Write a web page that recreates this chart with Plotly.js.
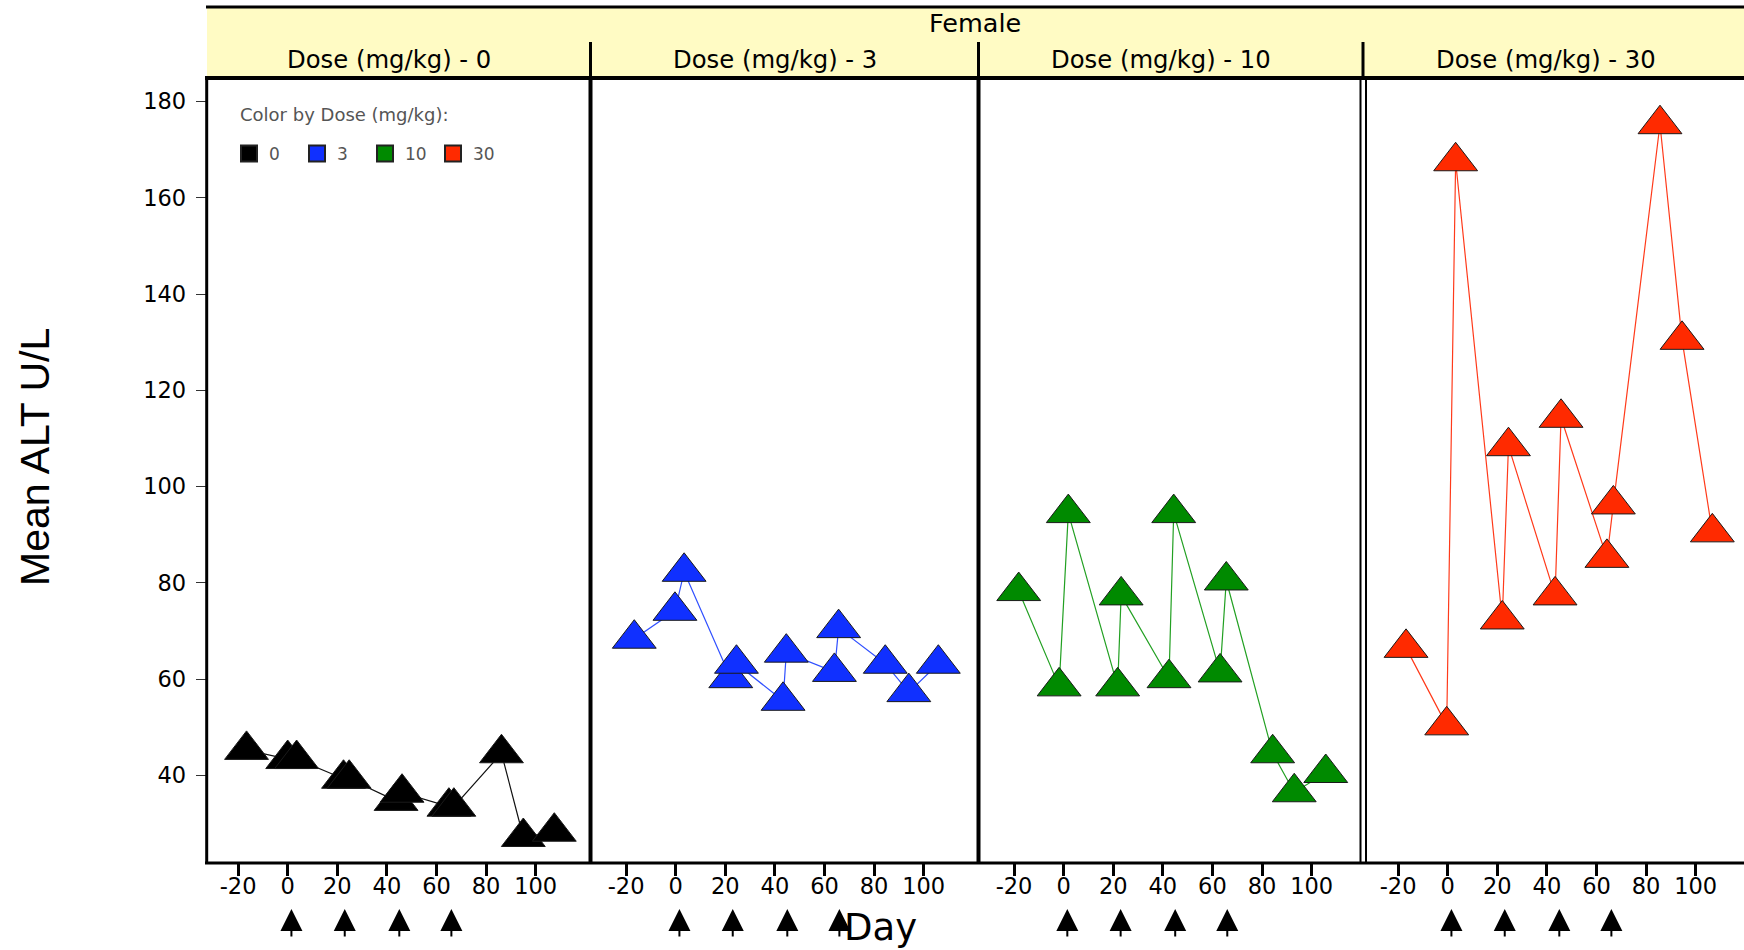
<!DOCTYPE html>
<html>
<head>
<meta charset="utf-8">
<script src="https://cdn.plot.ly/plotly-3.0.1.min.js"></script>
<style>
  html, body { margin: 0; padding: 0; background: #ffffff; }
  #chart { width: 1744px; height: 950px; }
</style>
</head>
<body>
<div id="chart"></div>
<script>
// ---- data ----
const doses = ['0', '3', '10', '30'];
const sexLabel = 'Female';

const days_0  = [-16.6, 0.0, 3.6, 22.5, 24.8, 43.7, 46.1, 65.0, 67.0, 86.2, 95.0, 107.5];
const alt_0   = [45.3, 43.4, 43.4, 39.3, 39.3, 34.7, 36.4, 33.5, 33.5, 44.6, 27.2, 28.3];

const days_3  = [-16.7, -0.3, 3.4, 22.2, 24.5, 43.3, 44.6, 64.0, 65.7, 84.5, 94.0, 105.9];
const alt_3   = [68.4, 74.2, 82.3, 60.2, 63.2, 55.5, 65.5, 61.5, 70.6, 63.2, 57.3, 63.2];

const days_10 = [-18.1, -1.8, 1.9, 21.8, 23.2, 42.5, 44.4, 63.1, 65.6, 84.3, 93.0, 105.7];
const alt_10  = [78.3, 58.5, 94.5, 58.5, 77.4, 60.2, 94.5, 61.4, 80.5, 44.6, 36.5, 40.5];

const days_30 = [-16.8, -0.4, 3.2, 22.0, 24.5, 43.3, 45.7, 64.2, 66.8, 85.6, 94.5, 106.7];
const alt_30  = [66.5, 50.4, 167.6, 72.4, 108.4, 77.4, 114.3, 85.2, 96.3, 175.3, 130.5, 90.5];

const dosingDays = [1.5, 23, 45, 66];
const xTickVals = [-20, 0, 20, 40, 60, 80, 100];
const xTickText = ['-20', '0', '20', '40', '60', '80', '100'];
const yTickVals = [40, 60, 80, 100, 120, 140, 160, 180];

const allDays = [days_0, days_3, days_10, days_30];
const allAlt  = [alt_0, alt_3, alt_10, alt_30];

// ---- styling ----
const W = 1744, H = 950;
const px = v => v / W;
const py = v => 1 - v / H;

const markerColors = ['#000000', '#1030ff', '#008a00', '#ff2a00'];
const lineColors   = ['#111111', '#3050ff', '#22a022', '#ff3a1a'];

const FONT = 'DejaVu Sans, Liberation Sans, Arial, sans-serif';

// panel geometry (pixels) and axis ranges
const panelLeft  = [206.7, 591.0, 979.0, 1365.5];
const panelRight = [590.0, 978.0, 1360.5, 1744.0];
const zeroPx     = [287.7, 675.7, 1063.6, 1447.7];
const pxPerDay   = 2.48;
const plotTop = 78, plotBottom = 863;

const traces = [];
const layout = {
  width: W, height: H,
  margin: {l: 0, r: 0, t: 0, b: 0},
  paper_bgcolor: '#ffffff',
  plot_bgcolor: '#ffffff',
  font: {family: FONT, color: '#000'},
  showlegend: true,
  legend: {
    x: px(229), y: py(154), xanchor: 'left', yanchor: 'middle',
    orientation: 'h',
    bgcolor: 'rgba(0,0,0,0)',
    borderwidth: 0,
    entrywidth: 23, entrywidthmode: 'pixels',
    font: {family: FONT, size: 17, color: '#555555'},
    itemclick: false, itemdoubleclick: false
  },
  yaxis: {
    domain: [py(plotBottom), py(plotTop)],
    range: [21.8, 184.9],
    tickvals: yTickVals,
    ticks: 'outside', ticklen: 10, tickwidth: 1, tickcolor: '#333',
    ticklabelstandoff: 5,
    tickfont: {family: FONT, size: 22.5, color: '#000'},
    showgrid: false, zeroline: false, showline: false,
    anchor: 'x', fixedrange: true
  },
  shapes: [],
  annotations: []
};

for (let k = 0; k < 4; k++) {
  const axName = k === 0 ? 'xaxis' : 'xaxis' + (k + 1);
  const axRef = k === 0 ? 'x' : 'x' + (k + 1);
  const left = -(zeroPx[k] - panelLeft[k]) / pxPerDay;
  const right = left + (panelRight[k] - panelLeft[k]) / pxPerDay;
  layout[axName] = {
    domain: [px(panelLeft[k]), px(panelRight[k])],
    range: [left, right],
    tickvals: xTickVals, ticktext: xTickText,
    ticks: 'outside', ticklen: 12, tickwidth: 3, tickcolor: '#000',
    ticklabelstandoff: -9,
    tickfont: {family: FONT, size: 22.5, color: '#000'},
    showgrid: false, zeroline: false, showline: false,
    anchor: 'y', fixedrange: true
  };
  traces.push({
    type: 'scatter', mode: 'lines+markers',
    x: allDays[k], y: allAlt[k],
    xaxis: axRef, yaxis: 'y',
    line: {color: lineColors[k], width: 1.2},
    marker: {symbol: 'triangle-up', size: 38, color: markerColors[k],
             line: {color: '#1a1a1a', width: 1}},
    showlegend: false, hoverinfo: 'x+y', cliponaxis: false
  });
  // strip label
  layout.annotations.push({
    text: 'Dose (mg/kg) - ' + doses[k],
    xref: 'paper', yref: 'paper',
    x: px((panelLeft[k] + Math.min(panelRight[k], panelLeft[k] + 386)) / 2 - 9), y: py(60),
    xanchor: 'center', yanchor: 'middle', showarrow: false,
    font: {family: FONT, size: 24.3, color: '#000'}
  });
  // dosing arrows
  dosingDays.forEach(d => {
    layout.annotations.push({
      text: '', xref: axRef, yref: 'paper', x: d, y: py(909),
      axref: 'pixel', ayref: 'pixel', ax: 0, ay: 29,
      showarrow: true, arrowhead: 2, arrowsize: 2.2, arrowwidth: 2, arrowcolor: '#000'
    });
  });
}

// legend entries
doses.forEach((d, k) => {
  traces.push({
    type: 'scatter', mode: 'markers', x: [null], y: [null],
    name: d, showlegend: true, hoverinfo: 'skip',
    marker: {symbol: 'square', size: 16, color: markerColors[k],
             line: {color: '#222', width: 2}}
  });
});

// strip background and frame
const S = layout.shapes;
S.push({type: 'rect', xref: 'paper', yref: 'paper', x0: px(207), x1: 1, y0: py(78), y1: py(7),
        fillcolor: '#fffbc4', line: {width: 0}, layer: 'below'});
S.push({type: 'line', xref: 'paper', yref: 'paper', x0: px(206), x1: 1, y0: py(7), y1: py(7),
        line: {color: '#000', width: 3}});
S.push({type: 'line', xref: 'paper', yref: 'paper', x0: px(205), x1: 1, y0: py(78), y1: py(78),
        line: {color: '#000', width: 4}});
[590.5, 978.5, 1363].forEach(x => {
  S.push({type: 'line', xref: 'paper', yref: 'paper', x0: px(x), x1: px(x), y0: py(42), y1: py(78),
          line: {color: '#000', width: 3}});
});
[[206.7, 3], [590.5, 4], [978.5, 4], [1360.5, 2], [1366, 2]].forEach(([x, w]) => {
  S.push({type: 'line', xref: 'paper', yref: 'paper', x0: px(x), x1: px(x), y0: py(78), y1: py(863),
          line: {color: '#000', width: w}});
});
S.push({type: 'line', xref: 'paper', yref: 'paper', x0: px(205), x1: 1, y0: py(863), y1: py(863),
        line: {color: '#000', width: 3}});

// titles
layout.annotations.push({
  text: 'Color by Dose (mg/kg):', xref: 'paper', yref: 'paper', x: px(238), y: py(114),
  xanchor: 'left', yanchor: 'middle', showarrow: false,
  font: {family: FONT, size: 18, color: '#555555'}
});
layout.annotations.push({
  text: sexLabel, xref: 'paper', yref: 'paper', x: px(975), y: py(23),
  xanchor: 'center', yanchor: 'middle', showarrow: false,
  font: {family: FONT, size: 25.5, color: '#000'}
});
layout.annotations.push({
  text: 'Day', xref: 'paper', yref: 'paper', x: px(880), y: py(927),
  xanchor: 'center', yanchor: 'middle', showarrow: false,
  font: {family: FONT, size: 37, color: '#000'}
});
layout.annotations.push({
  text: 'Mean ALT U/L', xref: 'paper', yref: 'paper', x: px(35), y: py(457),
  xanchor: 'center', yanchor: 'middle', showarrow: false, textangle: -90,
  font: {family: 'Liberation Sans, Arial, sans-serif', size: 41, color: '#000'}
});

Plotly.newPlot('chart', traces, layout, {displayModeBar: false, staticPlot: true});
</script>
</body>
</html>
